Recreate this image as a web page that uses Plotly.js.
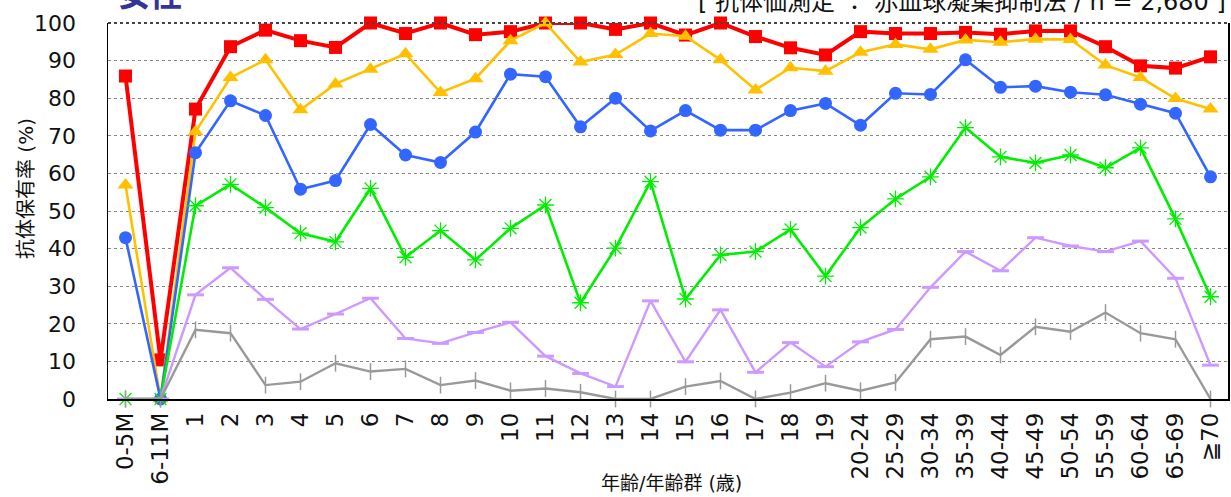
<!DOCTYPE html>
<html>
<head>
<meta charset="utf-8">
<script src="https://cdn.plot.ly/plotly-3.0.1.min.js"></script>
<style>
  html, body { margin: 0; padding: 0; background: #fff; }
  #chart { width: 1231px; height: 497px; }
</style>
</head>
<body>
<div id="chart"></div>
<script>
const categories = ['0-5M','6-11M','1','2','3','4','5','6','7','8','9','10','11','12','13','14','15','16','17','18','19',
  '20-24','25-29','30-34','35-39','40-44','45-49','50-54','55-59','60-64','65-69','≧70'];

const seriesNames = ['≧1:8','≧1:16','≧1:32','≧1:64','≧1:128','≧1:256'];

const redValues    = [85.9,10.4,77.1,93.7,98.1,95.3,93.5,100,97.2,100,96.9,97.7,100,100,98.3,100,96.8,100,96.4,93.4,91.5,97.7,97.2,97.2,97.5,97.0,97.9,97.9,93.7,88.6,88.0,91.0];
const yellowValues = [56.9,0,71.1,85.5,90.2,76.9,83.8,87.7,91.8,81.5,85.2,95.3,100,89.6,91.6,97.2,96.5,90.2,82.2,88.1,87.2,92.2,94.3,93.0,95.5,94.9,95.7,95.6,88.8,85.5,79.9,77.1];
const blueValues   = [42.9,0,65.5,79.3,75.4,55.8,58.1,73.0,64.9,62.9,71.0,86.4,85.7,72.4,80.0,71.3,76.7,71.5,71.5,76.7,78.6,72.8,81.3,81.0,90.2,82.9,83.2,81.6,80.9,78.4,76.0,59.1];
const greenValues  = [0,0,51.4,57.1,50.9,44.1,41.8,56.0,37.7,44.8,37.0,45.4,51.6,25.6,40.1,57.8,26.6,38.3,39.2,45.1,32.7,45.6,53.2,59.1,72.2,64.4,62.8,64.9,61.5,66.8,47.9,27.2];
const purpleValues = [0,0,27.7,34.9,26.5,18.6,22.6,26.8,16.1,14.8,17.7,20.4,11.4,6.8,3.3,26.1,9.9,23.7,7.1,15.0,8.6,15.2,18.5,29.7,39.2,34.1,42.9,40.7,39.2,42.0,32.1,9.0];
const grayValues   = [0,0,18.4,17.5,3.7,4.6,9.5,7.3,8.0,3.7,4.9,2.2,2.8,1.8,0,0,3.3,4.8,0,1.7,4.2,2.2,4.4,15.9,16.6,11.7,19.2,17.9,23.0,17.5,15.9,0];

const yTickVals = [0,10,20,30,40,50,60,70,80,90,100];

function mk(name, y, color, lw, symbol, size, mline) {
  return {
    type: 'scatter', mode: 'lines+markers', name: name,
    x: categories, y: y, cliponaxis: false,
    line: { color: color, width: lw },
    marker: { symbol: symbol, size: size, color: color, line: { color: color, width: mline } }
  };
}

const traces = [
  mk(seriesNames[0], redValues, '#FF0000', 4, 'square', 13, 0),
  mk(seriesNames[1], yellowValues, '#FFC000', 2.6, 'triangle-up', 14, 0),
  mk(seriesNames[2], blueValues, '#3366FF', 2.6, 'circle', 13, 0),
  mk(seriesNames[3], greenValues, '#00EE00', 2.6, 'asterisk-open', 14, 1.3),
  mk(seriesNames[4], purpleValues, '#CC99FF', 2.4, 'line-ew-open', 12, 3),
  mk(seriesNames[5], grayValues, '#999999', 2.4, 'line-ns-open', 12, 1.5)
];

const mixFont = 'DejaVu Sans, Noto Sans CJK JP, sans-serif';

const layout = {
  width: 1231, height: 497,
  margin: { l: 108, r: 3, t: 23, b: 98 },
  paper_bgcolor: '#ffffff', plot_bgcolor: '#ffffff',
  showlegend: false,
  font: { family: mixFont, color: '#222222' },
  xaxis: {
    type: 'category', range: [-0.5, 31.5],
    tickangle: -90, tickfont: { size: 23, family: mixFont, color: '#111111' },
    showgrid: false, showline: true, linecolor: '#000000', linewidth: 1.5,
    ticks: '', ticklabelstandoff: 3, zeroline: false, fixedrange: true
  },
  yaxis: {
    range: [0, 100], tickvals: yTickVals, ticktext: yTickVals.map(String),
    tickfont: { size: 22, family: mixFont, color: '#111111' },
    showgrid: true, gridcolor: '#888888', griddash: 'dot', gridwidth: 1,
    showline: true, mirror: true, linecolor: '#000000', linewidth: 1.5,
    zeroline: false, ticks: '', ticklabelstandoff: 26, fixedrange: true
  },
  shapes: [
    { type: 'line', xref: 'paper', yref: 'paper', x0: 0, x1: 1, y0: 1, y1: 1,
      line: { color: '#444444', width: 2, dash: 'dot' } }
  ],
  annotations: [
    { text: '<b>女性</b>', xref: 'paper', yref: 'paper', x: 0.0375, y: 1.016, xanchor: 'center', yanchor: 'bottom',
      showarrow: false, font: { size: 32, color: '#333399', family: 'Noto Sans CJK JP' } },
    { text: '[ 抗体価測定 ： 赤血球凝集抑制法 / n = 2,680 ]', xref: 'paper', yref: 'paper', x: 1.0, y: 1.014, xanchor: 'right', yanchor: 'bottom',
      showarrow: false, font: { size: 24, color: '#111111', family: mixFont } },
    { text: '抗体保有率 (%)', xref: 'paper', yref: 'paper', x: (26 - 108) / 1120, y: (399 - 189) / 376, xanchor: 'center', yanchor: 'middle',
      textangle: -90, showarrow: false, font: { size: 20, color: '#111111', family: mixFont } },
    { text: '年齢/年齢群 (歳)', xref: 'paper', yref: 'paper', x: (671 - 108) / 1120, y: (399 - 483) / 376, xanchor: 'center', yanchor: 'middle',
      showarrow: false, font: { size: 19, color: '#111111', family: mixFont } }
  ]
};

Plotly.newPlot('chart', traces, layout, { staticPlot: true, displayModeBar: false });
</script>
</body>
</html>
